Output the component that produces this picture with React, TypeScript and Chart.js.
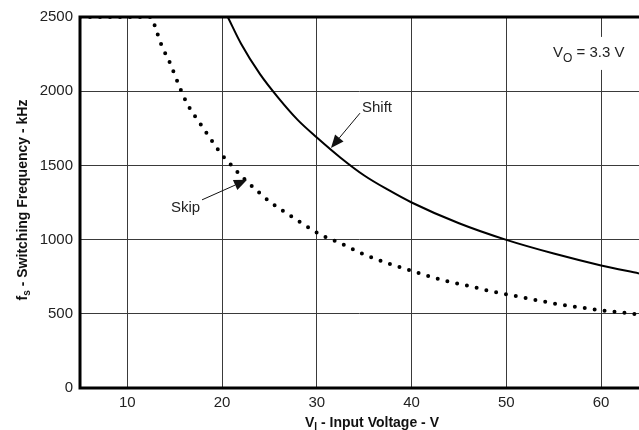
import React, { useEffect, useRef } from "react";
import { Chart, registerables } from "chart.js";
Chart.register(...registerables);

const xTicks = [10, 20, 30, 40, 50, 60];
const yTicks = [0, 500, 1000, 1500, 2000, 2500];

const shiftV = [20.6, 22, 24, 26, 28, 30, 32.5, 35, 37.5, 40, 45, 50, 55, 60, 64];
const shiftF = [2500, 2320, 2115, 1950, 1805, 1688, 1552, 1432, 1336, 1250, 1110, 998, 906, 826, 772];

const skipV = [5, 8, 10, 12.5, 13.0, 13.6, 14.5, 15.5, 16.4, 17.6, 18.8, 20, 21, 22, 23.5, 25, 27, 28.5, 30.3, 32.5, 35, 37.5, 40, 43.5, 46, 48.5, 51, 55, 60, 64];
const skipF = [2500, 2500, 2500, 2500, 2420, 2310, 2190, 2030, 1905, 1790, 1677, 1570, 1500, 1430, 1340, 1257, 1170, 1107, 1037, 975, 900, 840, 790, 723, 688, 650, 620, 570, 524, 496];

const FONT = "'Liberation Sans', Arial, sans-serif";

type Part = [string, boolean];
const xTitle: Part[] = [["V", false], ["I", true], [" - Input Voltage - V", false]];
const yTitle: Part[] = [["f", false], ["s", true], [" - Switching Frequency - kHz", false]];
const voText: Part[] = [["V", false], ["O", true], [" = 3.3 V", false]];
const shiftLabel = "Shift";
const skipLabel = "Skip";

// annotation anchors in data units
const shiftTextAt = [34.76, 1860];
const shiftArrow = [[34.55, 1852], [31.49, 1618]];
const skipTextAt = [14.6, 1188];
const skipArrow = [[17.88, 1268], [22.63, 1403]];
const voTextAt = [54.92, 2231];

function drawParts(ctx: CanvasRenderingContext2D, parts: Part[], x: number, y: number, size: number, bold: boolean, center: boolean, subSize: number, subDrop: number) {
  const w = (p: Part) => {
    ctx.font = `${bold ? "bold " : ""}${p[1] ? subSize : size}px ${FONT}`;
    return ctx.measureText(p[0]).width;
  };
  let total = 0;
  parts.forEach((p) => (total += w(p)));
  let cx = center ? x - total / 2 : x;
  parts.forEach((p) => {
    const ww = w(p);
    ctx.fillText(p[0], cx, p[1] ? y + subDrop : y);
    cx += ww;
  });
  return total;
}

function arrow(ctx: CanvasRenderingContext2D, x1: number, y1: number, x2: number, y2: number) {
  const ang = Math.atan2(y2 - y1, x2 - x1);
  const L = 13, H = 5.5;
  const bx = x2 - L * Math.cos(ang), by = y2 - L * Math.sin(ang);
  ctx.beginPath();
  ctx.moveTo(x1, y1);
  ctx.lineTo(bx, by);
  ctx.lineWidth = 1;
  ctx.strokeStyle = "#111";
  ctx.stroke();
  ctx.beginPath();
  ctx.moveTo(x2, y2);
  ctx.lineTo(bx + H * Math.sin(ang), by - H * Math.cos(ang));
  ctx.lineTo(bx - H * Math.sin(ang), by + H * Math.cos(ang));
  ctx.closePath();
  ctx.fillStyle = "#111";
  ctx.fill();
}

const decor = {
  id: "decor",
  afterDraw(chart: any) {
    const ctx: CanvasRenderingContext2D = chart.ctx;
    const { left, right, top, bottom } = chart.chartArea;
    const xs = chart.scales.x, ys = chart.scales.y;
    const px = (v: number) => xs.getPixelForValue(v);
    const py = (v: number) => ys.getPixelForValue(v);
    ctx.save();
    // frame
    ctx.strokeStyle = "#000";
    ctx.lineWidth = 3;
    ctx.beginPath();
    ctx.moveTo(left, top);
    ctx.lineTo(right, top);
    ctx.moveTo(left, top - 1.5);
    ctx.lineTo(left, bottom + 1.5);
    ctx.moveTo(left, bottom);
    ctx.lineTo(right, bottom);
    ctx.stroke();

    // VO label box
    const vx = px(voTextAt[0]), vy = py(voTextAt[1]);
    ctx.fillStyle = "#fff";
    ctx.fillRect(vx - 5, vy - 20, 86, 33);
    ctx.fillStyle = "#222";
    ctx.textBaseline = "alphabetic";
    ctx.textAlign = "left";
    drawParts(ctx, voText, vx, vy, 15, false, false, 12, 5);

    // Shift / Skip
    ctx.font = `15px ${FONT}`;
    ctx.fillStyle = "#222";
    ctx.fillText(shiftLabel, px(shiftTextAt[0]), py(shiftTextAt[1]));
    ctx.fillText(skipLabel, px(skipTextAt[0]), py(skipTextAt[1]));
    arrow(ctx, px(shiftArrow[0][0]), py(shiftArrow[0][1]), px(shiftArrow[1][0]), py(shiftArrow[1][1]));
    arrow(ctx, px(skipArrow[0][0]), py(skipArrow[0][1]), px(skipArrow[1][0]), py(skipArrow[1][1]));

    // axis titles
    ctx.fillStyle = "#111";
    drawParts(ctx, xTitle, 372, 427, 14, true, true, 10, 3);
    ctx.translate(27, 200);
    ctx.rotate(-Math.PI / 2);
    drawParts(ctx, yTitle, 0, 0, 14, true, true, 10, 3);
    ctx.restore();
  },
};

export default function App() {
  const ref = useRef<HTMLCanvasElement>(null);
  useEffect(() => {
    document.body.style.margin = "0";
    const chart = new Chart(ref.current!, {
      type: "line",
      data: {
        datasets: [
          {
            label: "Shift",
            data: shiftV.map((v, i) => ({ x: v, y: shiftF[i] })),
            borderColor: "#000",
            borderWidth: 2,
            pointRadius: 0,
            cubicInterpolationMode: "monotone",
          },
          {
            label: "Skip",
            data: skipV.map((v, i) => ({ x: v, y: skipF[i] })),
            borderColor: "#000",
            borderWidth: 4,
            borderDash: [0, 10],
            borderCapStyle: "round",
            pointRadius: 0,
            cubicInterpolationMode: "monotone",
          },
        ],
      },
      options: {
        animation: false,
        responsive: false,
        maintainAspectRatio: false,
        layout: { padding: { top: 17, right: 0, left: 0, bottom: 0 } },
        plugins: { legend: { display: false }, tooltip: { enabled: false } },
        scales: {
          x: {
            type: "linear",
            min: 5,
            max: 64,
            afterBuildTicks: (s: any) => {
              s.ticks = xTicks.map((v) => ({ value: v }));
            },
            afterFit: (s: any) => {
              s.height = 42;
            },
            grid: { color: "#3a3a3a", lineWidth: 1, drawTicks: false },
            border: { display: false },
            ticks: { color: "#222", font: { family: FONT, size: 15 }, padding: 6, maxRotation: 0, callback: (v: any) => String(v) },
          },
          y: {
            type: "linear",
            min: 0,
            max: 2500,
            afterBuildTicks: (s: any) => {
              s.ticks = yTicks.map((v) => ({ value: v }));
            },
            afterFit: (s: any) => {
              s.width = 80;
            },
            grid: { color: "#3a3a3a", lineWidth: 1, drawTicks: false },
            border: { display: false },
            ticks: { color: "#222", font: { family: FONT, size: 15 }, padding: 7, callback: (v: any) => String(v) },
          },
        },
      },
      plugins: [decor],
    } as any);
    return () => chart.destroy();
  }, []);
  return (
    <div style={{ width: 639, height: 430 }}>
      <canvas ref={ref} width={639} height={430} style={{ display: "block" }} />
    </div>
  );
}
